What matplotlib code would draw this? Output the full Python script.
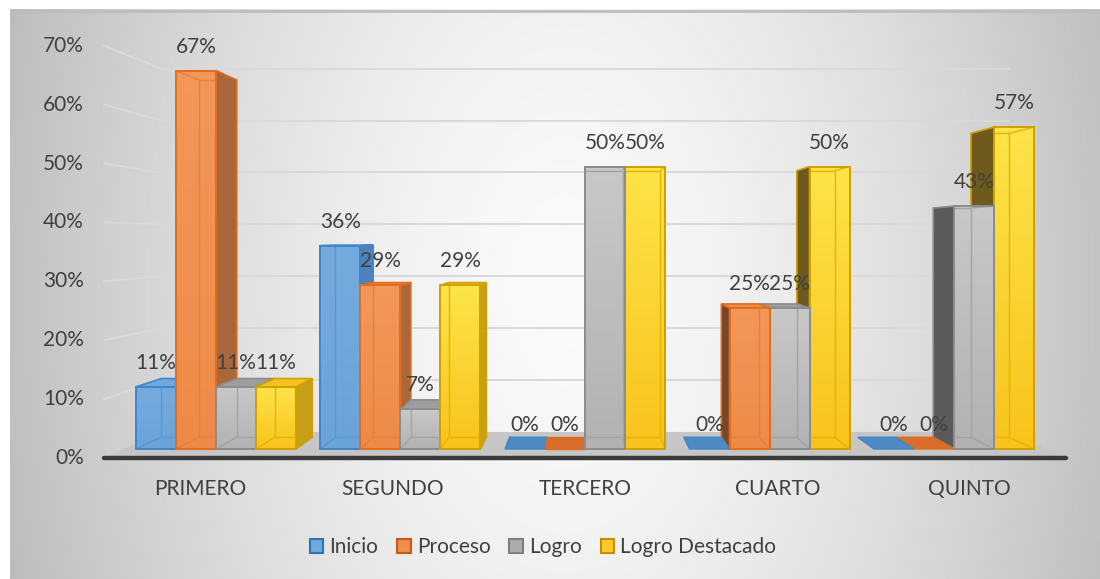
import numpy as np
import matplotlib
matplotlib.use("Agg")
import matplotlib.pyplot as plt
from matplotlib.patches import Polygon, Patch, Rectangle
from matplotlib.colors import to_rgb

# ---------------- data ----------------
categories = ["PRIMERO", "SEGUNDO", "TERCERO", "CUARTO", "QUINTO"]
series_names = ["Inicio", "Proceso", "Logro", "Logro Destacado"]
inicio = [11, 36, 0, 0, 0]
proceso = [67, 29, 0, 25, 0]
logro = [11, 7, 50, 25, 43]
logro_destacado = [11, 29, 50, 50, 57]
y_ticks = [0, 10, 20, 30, 40, 50, 60, 70]
series_values = [inicio, proceso, logro, logro_destacado]

# ---------------- styles ----------------
styles = [
    dict(top="#76abdf", bottom="#6aa3d9", edge="#3f86c8", inner="#5b97cf",
         rside="#4e82b8", lside="#2f5d8c", cap="#6fa8dc", flat="#4f8ac4",
         leg_fc="#6fa8dc", leg_ec="#2e75b6"),
    dict(top="#f3975a", bottom="#ee8a47", edge="#e06d1c", inner="#e8803a",
         rside="#a8683c", lside="#74462a", cap="#ef8d4c", flat="#d96b2b",
         leg_fc="#f08c4c", leg_ec="#c55a11"),
    dict(top="#c8c8c8", bottom="#b2b2b2", edge="#8c8c8c", inner="#a3a3a3",
         rside="#8f8f8f", lside="#5a5a5a", cap="#9e9e9e", flat="#9a9a9a",
         leg_fc="#acacac", leg_ec="#7f7f7f"),
    dict(top="#fde449", bottom="#f9c31c", edge="#cfa000", inner="#e5b400",
         rside="#c6a01a", lside="#6e5a1c", cap="#f2c21e", flat="#e0b000",
         leg_fc="#ffc92a", leg_ec="#bf9000"),
]
text_color = "#404040"

plt.rcParams["font.family"] = ["Lato", "DejaVu Sans"]

# ---------------- layout (pixel geometry of the 3D view) ----------------
W, H = 1100, 579
PX0, SX = 585.0, 192.4       # px of vanishing X at front plane, px per category
PY0, SY = 458.0, 5.89        # px of 0 % at front plane, px per percent
XV = 2.0                     # vanishing point X (category units)
YV = (PY0 - 239.0) / SY      # vanishing point Y (percent units)
RF, RB, RW = 0.959, 0.905, 0.881   # depth scale: bar front, bar back, back wall
BAR_W = 0.2168
FLOOR_X = (-0.5, 4.5)

fig = plt.figure(figsize=(W / 100, H / 100), dpi=100)
fig.patch.set_facecolor("white")

# background gradient panel
bg = fig.add_axes([10 / W, 0, (W - 10) / W, (H - 9) / H])
bg.set_zorder(0)
gx = np.linspace(10, W, 545)
gy = np.linspace(9, H, 285)
GX, GY = np.meshgrid(gx, gy)
d = np.sqrt(((GX - 565) / 545) ** 2 + 0.10 * ((GY - 290) / 285) ** 2)
val = (250 - 56 * np.clip(d, 0, 1.2) ** 1.5) / 255.0
bg.imshow(val, cmap="gray", vmin=0, vmax=1, extent=(0, 1, 0, 1), aspect="auto",
          origin="upper", interpolation="bilinear")
bg.plot([0, 1], [0.997, 0.997], color="#bdbdbd", lw=2, transform=bg.transAxes)
bg.set_xlim(0, 1); bg.set_ylim(0, 1)
bg.axis("off")

ax = fig.add_axes([0, 0, 1, 1])
ax.set_zorder(1)
ax.patch.set_alpha(0)
xlim = (XV - PX0 / SX, XV + (W - PX0) / SX)
ylim = (-(H - PY0) / SY, PY0 / SY)
ax.axis("off")


def P(X, Y, r):
    return (XV + (X - XV) * r, YV + (Y - YV) * r)


# ---------------- walls & floor ----------------
for t in y_ticks[1:]:
    a = P(FLOOR_X[0], t, RW)
    b = P(FLOOR_X[1], t, RW)
    c = P(FLOOR_X[0], t, 1.0)
    ax.plot([a[0], b[0]], [a[1], b[1]], color="#d9d9d9", lw=1.4, zorder=1)
    ax.plot([c[0], a[0]], [c[1], a[1]], color="#d9d9d9", lw=1.4, zorder=1)

floor = [P(FLOOR_X[0], 0, RW), P(FLOOR_X[1], 0, RW), P(FLOOR_X[1], 0, 1.0), P(FLOOR_X[0], 0, 1.0)]
ax.add_patch(Polygon(floor, closed=True, fc="#c6c6c6", ec="none", zorder=2))
fl0, fl1 = P(FLOOR_X[0], 0, 1.0), P(FLOOR_X[1], 0, 1.0)
ax.plot([fl0[0], fl1[0]], [fl0[1], fl1[1]], color="#3a3a3a", lw=3.2,
        solid_capstyle="round", zorder=3)


# ---------------- bars ----------------
def line(p, q, color, lw, z, clip=None):
    ln, = ax.plot([p[0], q[0]], [p[1], q[1]], color=color, lw=lw, zorder=z,
                  solid_capstyle="butt")
    if clip is not None:
        ln.set_clip_path(clip)


def draw_bar(X0, X1, v, st, z):
    if v == 0:
        poly = [P(X0, 0, RF), P(X1, 0, RF), P(X1, 0, RB), P(X0, 0, RB)]
        ax.add_patch(Polygon(poly, closed=True, fc=st["flat"], ec=st["edge"], lw=1.0, zorder=z))
        return
    if X1 < XV:
        ax.add_patch(Polygon([P(X1, 0, RF), P(X1, 0, RB), P(X1, v, RB), P(X1, v, RF)],
                             closed=True, fc=st["rside"], ec=st["edge"], lw=1.2, zorder=z))
    if X0 > XV:
        ax.add_patch(Polygon([P(X0, 0, RF), P(X0, 0, RB), P(X0, v, RB), P(X0, v, RF)],
                             closed=True, fc=st["lside"], ec=st["edge"], lw=1.2, zorder=z))
    if v < YV:
        ax.add_patch(Polygon([P(X0, v, RF), P(X1, v, RF), P(X1, v, RB), P(X0, v, RB)],
                             closed=True, fc=st["cap"], ec=st["edge"], lw=1.2, zorder=z + 0.05))
    fx0, fy0 = P(X0, 0, RF)
    fx1, fy1 = P(X1, v, RF)
    c0 = np.array(to_rgb(st["bottom"]))
    c1 = np.array(to_rgb(st["top"]))
    tt = np.linspace(0, 1, 64)[:, None, None]
    img = c0 * (1 - tt) + c1 * tt
    img = np.repeat(img, 2, axis=1)
    ax.imshow(img, extent=(fx0, fx1, fy0, fy1), origin="lower", aspect="auto",
              interpolation="bilinear", zorder=z + 0.1)
    clip = Rectangle((fx0, fy0), fx1 - fx0, fy1 - fy0, transform=ax.transData)
    inner = st["inner"]
    line(P(X0, 0, RB), P(X1, 0, RB), inner, 1.0, z + 0.2, clip)
    xs = []
    if X1 <= XV:
        xs.append(X0)
    if X0 >= XV:
        xs.append(X1)
    for xx in xs:
        line(P(xx, 0, RB), P(xx, v, RB), inner, 1.0, z + 0.2, clip)
        line(P(xx, 0, RF), P(xx, 0, RB), inner, 1.0, z + 0.2, clip)
        if v > YV:
            line(P(xx, v, RF), P(xx, v, RB), inner, 1.0, z + 0.2, clip)
    if v > YV:
        line(P(X0, v, RB), P(X1, v, RB), inner, 1.0, z + 0.2, clip)
    ax.add_patch(Rectangle((fx0, fy0), fx1 - fx0, fy1 - fy0, fc="none",
                           ec=st["edge"], lw=1.4, zorder=z + 0.3))


bars = []
for i in range(len(categories)):
    for j, vals in enumerate(series_values):
        X0 = i - 2 * BAR_W + j * BAR_W
        X1 = X0 + BAR_W
        bars.append((abs((X0 + X1) / 2 - XV), X0, X1, vals[i], j))
bars.sort(key=lambda b: -b[0])
z = 10
for _, X0, X1, v, j in bars:
    draw_bar(X0, X1, v, styles[j], z)
    z += 1

# ---------------- text ----------------
FS = 15
for i in range(len(categories)):
    for j, vals in enumerate(series_values):
        X0 = i - 2 * BAR_W + j * BAR_W
        v = vals[i]
        ax.annotate(f"{v}%", xy=P(X0 + BAR_W / 2, v, RF), xytext=(0, 17.3),
                    textcoords="offset points", ha="center", va="center",
                    fontsize=FS, color=text_color, zorder=200)

for t in y_ticks:
    ax.annotate(f"{t}%", xy=P(FLOOR_X[0], t, 1.0), xytext=(-14.4, 0),
                textcoords="offset points", ha="right", va="center",
                fontsize=FS, color=text_color, zorder=200)

for i, c in enumerate(categories):
    ax.annotate(c, xy=P(i, 0, 1.0), xytext=(0, -22.3), textcoords="offset points",
                ha="center", va="center", fontsize=FS, color=text_color, zorder=200)

ax.set_xlim(*xlim)
ax.set_ylim(*ylim)

handles = [Patch(facecolor=s["leg_fc"], edgecolor=s["leg_ec"], lw=1.5) for s in styles]
fig.legend(handles, series_names, loc="center", bbox_to_anchor=(543 / W, 1 - 547 / H),
           ncol=4, frameon=False, handlelength=0.65, handleheight=0.65,
           handletextpad=0.3, columnspacing=0.9, fontsize=FS, labelcolor=text_color)

fig.savefig("out.png", dpi=100)
